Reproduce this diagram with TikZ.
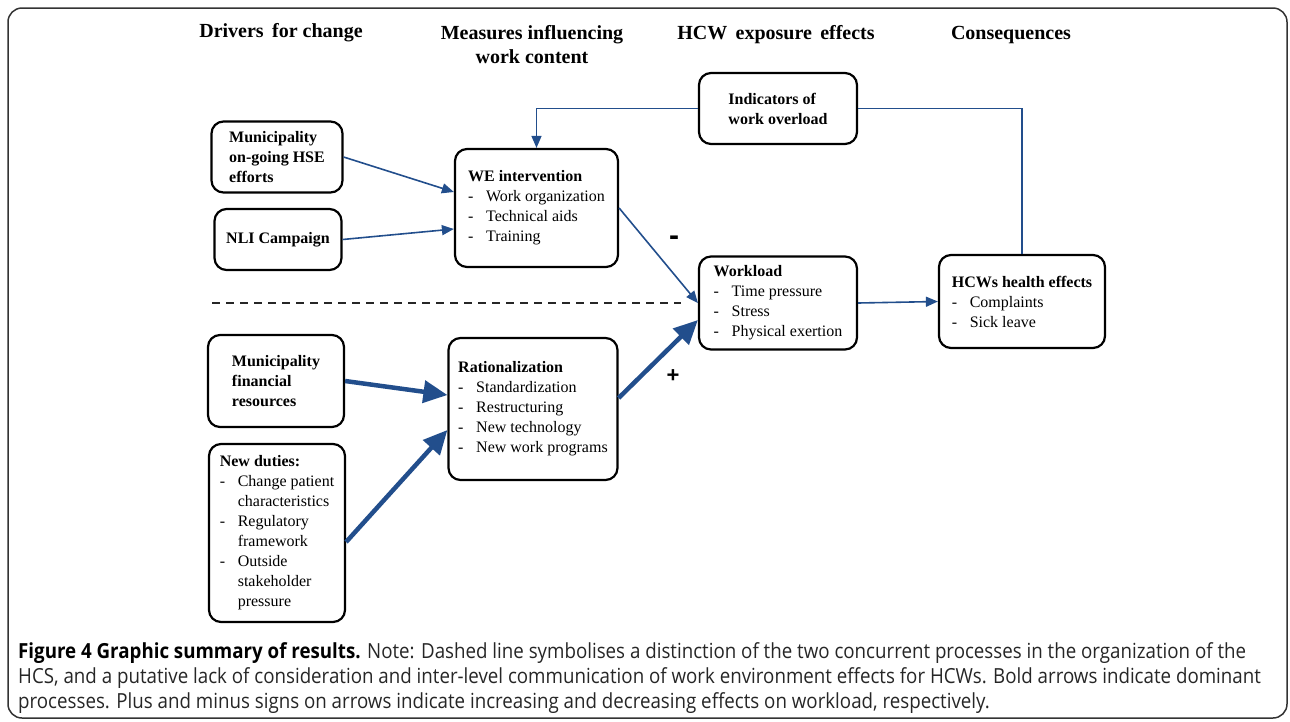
\documentclass[tikz,border=0pt]{standalone}
\usepackage{fontspec}
\setmainfont{Liberation Serif}
\newfontfamily\capfont[FakeStretch=0.9]{Open Sans}
\newfontfamily\signfont{Liberation Sans}
\usetikzlibrary{arrows.meta}
\definecolor{arrowblue}{RGB}{34,78,140}
\newcommand{\itm}{\makebox[18pt][l]{-}}
\newcommand{\cnt}{\hspace*{18pt}}

\begin{document}
\begin{tikzpicture}[x=1pt,y=-1pt]
  % Settings
  \tikzset{
    box/.style={draw, line width=2.2pt, rounded corners=12pt, align=left, inner sep=0pt, font=\fontsize{16}{20}\selectfont},
    head/.style={align=center, font=\fontsize{20}{24}\selectfont\bfseries},
    link/.style={draw=arrowblue, line width=1.6pt, -{Triangle[length=12pt,width=10pt]}},
    boldlink/.style={draw=arrowblue, line width=4.5pt, -{Triangle[length=24pt,width=22pt]}},
    fb/.style={draw=arrowblue, line width=1.3pt},
    sign/.style={font=\signfont\bfseries\fontsize{22}{22}\selectfont},
  }
  \useasboundingbox (0,0) rectangle (1290,721);
  \draw[line width=1.5pt, black!80, rounded corners=14pt] (8,8) rectangle (1287,718);
  % Column heads
  \node[head] (hdriv) at (281,33) {Drivers\, for change};
  \node[head] (hmeas) at (532,45) {Measures influencing\\work content};
  \node[head] (hexp) at (776,35) {HCW\, exposure\, effects};
  \node[head] (hcons) at (1011,35) {Consequences};
  % Boxes
  \node[box, minimum width=131pt, minimum height=71pt] (hse) at (277,157) {\textbf{Municipality}\\\textbf{on-going HSE}\\\textbf{efforts}};
  \node[box, minimum width=127pt, minimum height=61pt] (nli) at (278,239.5) {\textbf{NLI Campaign}};
  \node[box, minimum width=163pt, minimum height=118pt] (we) at (536.5,208) {\textbf{WE intervention}\\\itm Work organization\\\itm Technical aids\\\itm Training};
  \node[box, minimum width=158pt, minimum height=71pt] (ind) at (778,108.5) {\textbf{Indicators of}\\\textbf{work overload}};
  \node[box, minimum width=158pt, minimum height=93pt] (wl) at (778,303) {\textbf{Workload}\\\itm Time pressure\\\itm Stress\\\itm Physical exertion};
  \node[box, minimum width=166pt, minimum height=93pt] (hcw) at (1022,301.5) {\textbf{HCWs health effects}\\\itm Complaints\\\itm Sick leave};
  \node[box, minimum width=136pt, minimum height=92pt] (fin) at (276,381) {\textbf{Municipality}\\\textbf{financial}\\\textbf{resources}};
  \node[box, minimum width=169pt, minimum height=142pt] (rat) at (533,409) {\textbf{Rationalization}\\\itm Standardization\\\itm Restructuring\\\itm New technology\\\itm New work programs};
  \node[box, minimum width=136pt, minimum height=178pt] (duty) at (277,533) {\textbf{New duties:}\\\itm Change patient\\\cnt characteristics\\\itm Regulatory\\\cnt framework\\\itm Outside\\\cnt stakeholder\\\cnt pressure};
  % Dashed divider
  \draw[line width=1.5pt, black!85, dash pattern=on 8pt off 6pt] (212,303) -- (681,303);
  % Arrows
  \draw[link] (hse.east) -- ([yshift=16pt]we.west);
  \draw[link] (nli.east) -- ([yshift=-21pt]we.west);
  \draw[link] (we.east) -- (wl.west);
  \draw[link] (wl.east) -- (hcw.west);
  \draw[boldlink] (fin.east) -- ([yshift=14pt]rat.west);
  \draw[boldlink] ([yshift=-9pt]duty.east) -- ([yshift=-21pt]rat.west);
  \draw[boldlink] ([yshift=11pt]rat.east) -- ([yshift=-17pt]wl.west);
  % Feedback loop
  \draw[fb] (hcw.north) |- (ind.east);
  \draw[fb, -{Triangle[length=12pt,width=10pt]}] (ind.west) -| (we.north);
  % Signs
  \node[sign, font=\signfont\bfseries\fontsize{30}{30}\selectfont] (minus) at (674,241) {-};
  \node[sign] (plus) at (673,376) {+};
  % Caption
  \node[anchor=north west, inner sep=0pt, align=left, text=black!85, font=\capfont\fontsize{20.8}{25}\selectfont] (cap) at (18,642) {\textbf{\color{black}Figure 4 Graphic summary of results.} Note: Dashed line symbolises a distinction of the two concurrent processes in the organization of the\\HCS, and a putative lack of consideration and inter-level communication of work environment effects for HCWs. Bold arrows indicate dominant\\processes. Plus and minus signs on arrows indicate increasing and decreasing effects on workload, respectively.};
\end{tikzpicture}
\end{document}
